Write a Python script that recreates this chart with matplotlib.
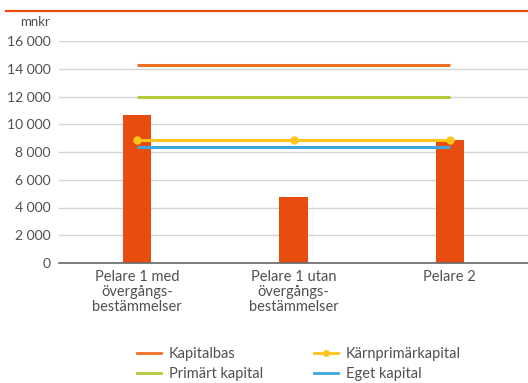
import matplotlib.pyplot as plt
from matplotlib.lines import Line2D

# Data
categories = ['Pelare 1 med\növergångs-\nbestämmelser', 'Pelare 1 utan\növergångs-\nbestämmelser', 'Pelare 2']
bar_values = [10700, 4750, 8870]
kapitalbas = [14250, 14250, 14250]
primart_kapital = [11950, 11950, 11950]
karnprimar = [8850, 8850, 8850]
eget_kapital = [8380, 8380, 8380]
yticks = [0, 2000, 4000, 6000, 8000, 10000, 12000, 14000, 16000]

text_col = '#505050'
plt.rcParams['font.family'] = ['Lato', 'DejaVu Sans']

fig = plt.figure(figsize=(5.28, 3.83), dpi=100)
ax = fig.add_axes([59 / 528, 1 - 263 / 383, 1 - 59 / 528, 222 / 383])

x = list(range(len(categories)))
ax.bar(x, bar_values, width=0.18, color='#E84C0E', zorder=2)
ax.plot(x, kapitalbas, color='#F07026', lw=2.2, zorder=3, solid_capstyle='butt')
ax.plot(x, primart_kapital, color='#B2CB3C', lw=2.2, zorder=3, solid_capstyle='butt')
ax.plot(x, eget_kapital, color='#3EA6DF', lw=2.2, zorder=3, solid_capstyle='butt')
ax.plot(x, karnprimar, color='#FDC51B', lw=2.2, marker='o', ms=5, zorder=4, solid_capstyle='butt')

ax.set_xlim(-0.5, 2.5)
ax.set_ylim(0, 16000)
ax.set_yticks(yticks)
ax.set_yticklabels([f'{v:,}'.replace(',', ' ') for v in yticks], fontsize=10)
ax.set_xticks(x)
ax.set_xticklabels(categories, linespacing=1.1, fontsize=10.5)
ax.tick_params(axis='both', length=0, colors=text_col)
ax.tick_params(axis='y', pad=6)
ax.tick_params(axis='x', pad=5)
ax.grid(axis='y', color='#d4d4d4', lw=1, zorder=0)
for s in ['top', 'right', 'left']:
    ax.spines[s].set_visible(False)
ax.spines['bottom'].set_color('#666666')
ax.spines['bottom'].set_linewidth(1.2)

fig.text(20 / 528, 1 - 22 / 383, 'mnkr', color=text_col, fontsize=9.5, va='center')

# orange rule at top
fig.add_artist(Line2D([6 / 528, 1], [1 - 11 / 383, 1 - 11 / 383], color='#E84C0E', lw=1.6))

handles = [
    Line2D([], [], color='#F07026', lw=2),
    Line2D([], [], color='#B2CB3C', lw=2),
    Line2D([], [], color='#FDC51B', lw=2, marker='o', ms=4),
    Line2D([], [], color='#3EA6DF', lw=2),
]
labels = ['Kapitalbas', 'Primärt kapital', 'Kärnprimärkapital', 'Eget kapital']
fig.legend(handles, labels, ncol=2, loc='center', bbox_to_anchor=(0.566, 1 - 364 / 383),
           frameon=False, fontsize=10.5, labelcolor=text_col, handlelength=1.65,
           columnspacing=3.5, labelspacing=0.45, handletextpad=0.55)

fig.savefig('out.png', dpi=100)
